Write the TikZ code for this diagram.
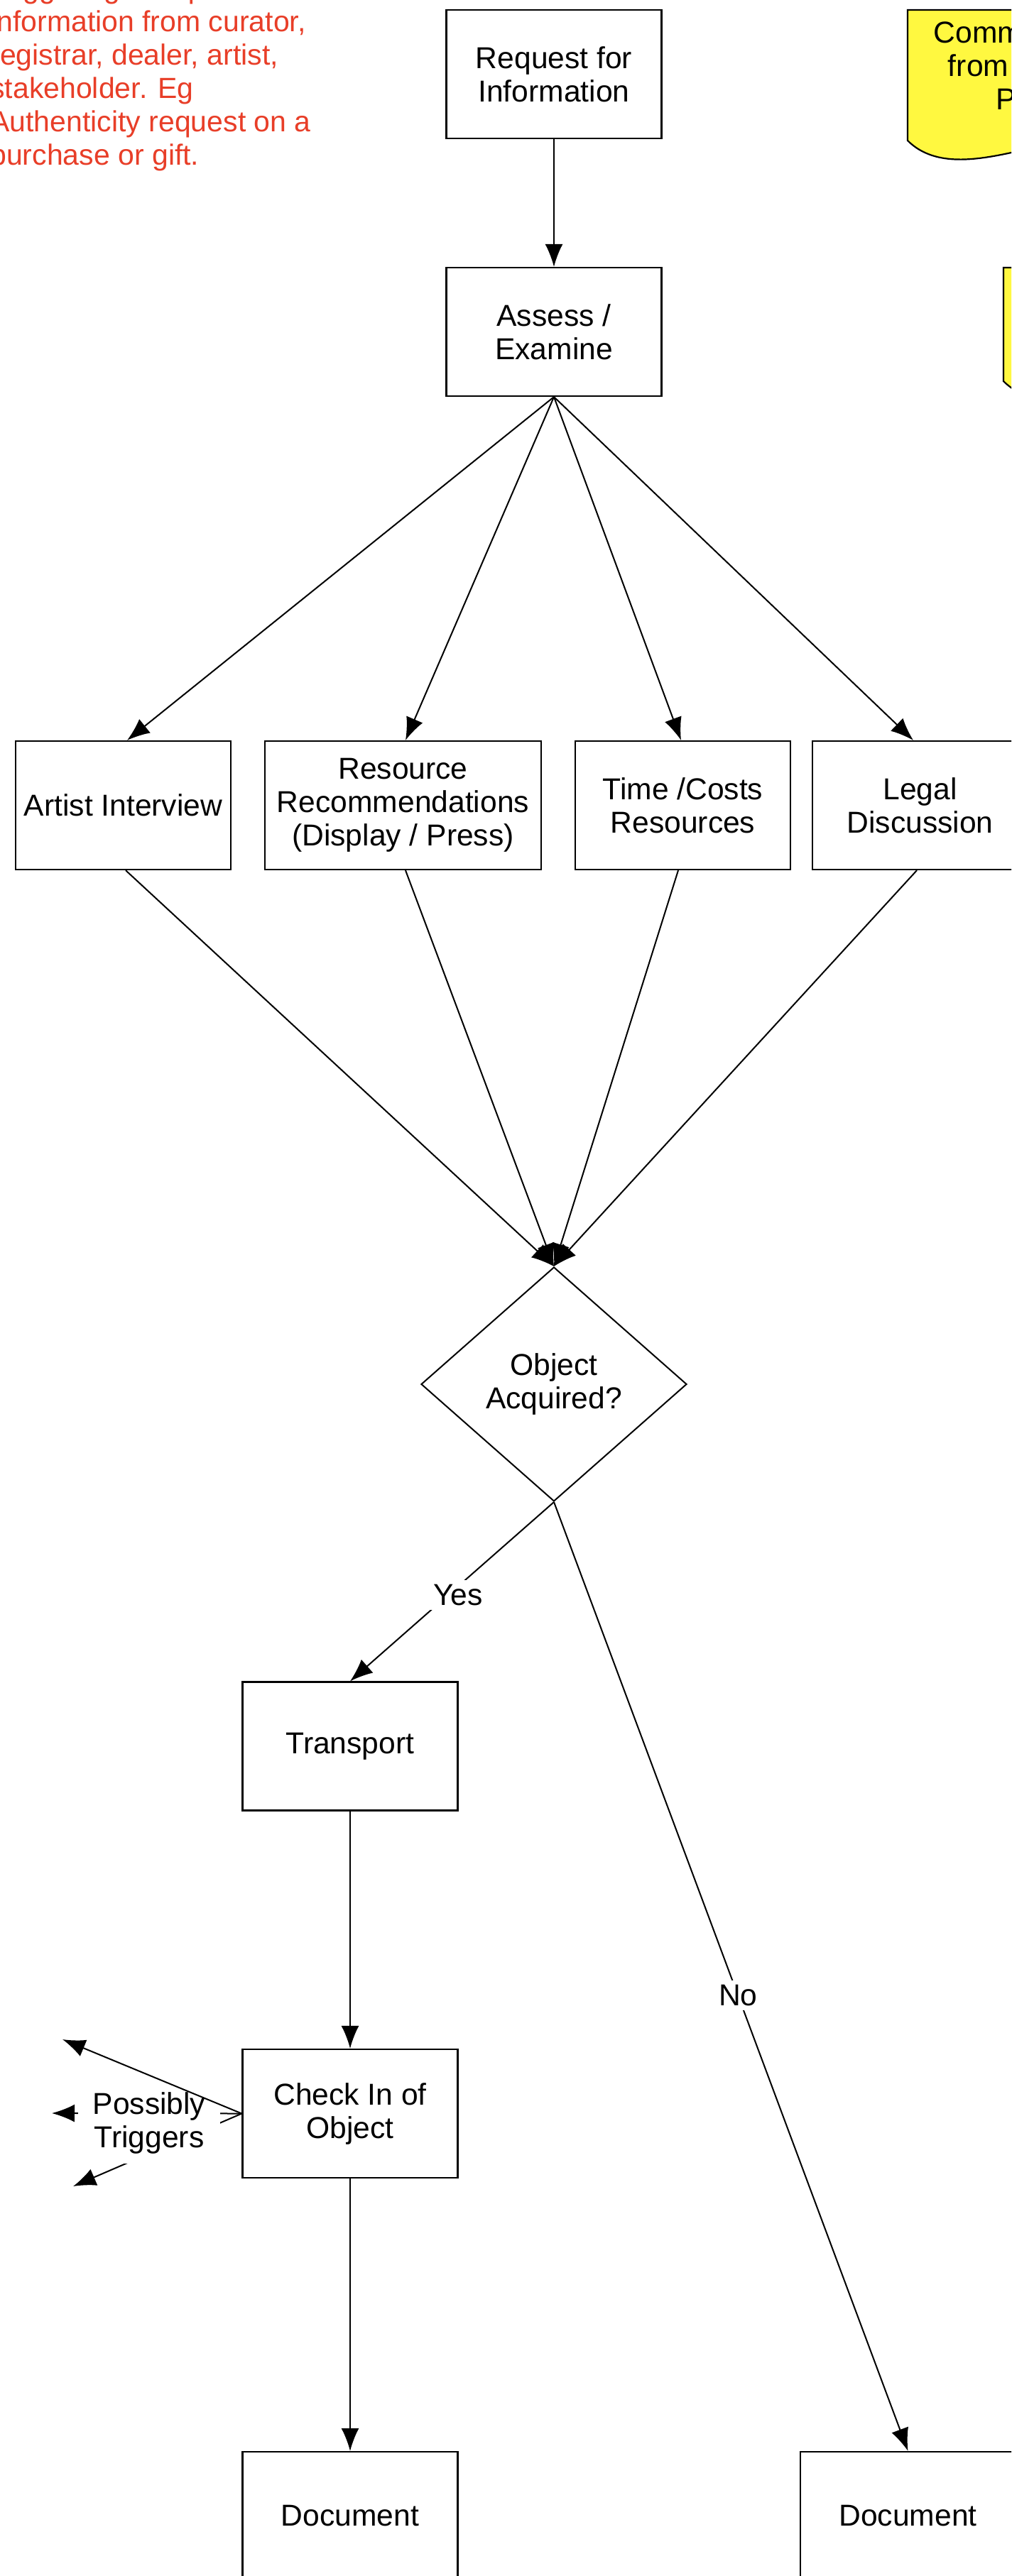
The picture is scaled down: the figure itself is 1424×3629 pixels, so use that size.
\documentclass[tikz,border=0pt]{standalone}
\usepackage{fontspec}
\setmainfont{Liberation Sans}
\usetikzlibrary{shapes.geometric,arrows.meta}
\definecolor{notered}{RGB}{232,62,40}
\definecolor{noteyellow}{RGB}{255,248,64}
\begin{document}
\begin{tikzpicture}[x=0.5pt,y=-0.5pt,
  txt/.style={font=\fontsize{21.3}{23.5}\selectfont},
  box/.style={txt,draw,line width=1.1pt,minimum width=151.5pt,minimum height=90.5pt,align=center,inner sep=2pt},
  decision/.style={txt,diamond,draw,line width=1pt,minimum width=187pt,minimum height=165pt,inner sep=0pt,align=center},
  conn/.style={line width=1pt,-{Latex[length=16pt,width=12.5pt]}},
  lbl/.style={txt,fill=white,inner sep=3pt},
  memo/.style={fill=noteyellow,draw,line width=1.1pt}
]
\useasboundingbox (0,0) rectangle (1424,3629);
\clip (0,0) rectangle (1424,3629);

% note
\node[anchor=north west,align=left,text=notered,inner sep=0pt,font=\fontsize{20.5}{23.5}\selectfont] (note) at (-14,-33)
  {Triggering a request for\\information from curator,\\registrar, dealer, artist,\\stakeholder. Eg\\Authenticity request on a\\purchase or gift.};

% yellow memos (cut by the frame)
\draw[memo] (1278,14) -- (1583,14) -- (1583,198) .. controls (1500,170) and (1350,270) .. (1278,198) -- cycle;
\node[txt,align=center] (comm) at (1432,92) {Commission\\from Artist\\PR};
\draw[memo] (1413,377) -- (1720,377) -- (1720,537) .. controls (1635,509) and (1485,609) .. (1413,537) -- cycle;

% boxes
\node[box] (req) at (780,104.5) {Request for\\Information};
\node[box] (assess) at (780,467.5) {Assess /\\Examine};
\node[box] (artist) at (173.5,1134.5) {Artist Interview};
\node[box,minimum width=194.5pt] (resource) at (567.5,1134.5) {Resource\\Recommendations\\(Display / Press)};
\node[box] (time) at (961.5,1134.5) {Time /Costs\\Resources};
\node[box] (legal) at (1295.5,1134.5) {Legal\\Discussion};
\node[decision] (acq) at (780,1950) {Object\\Acquired?};
\node[box] (transport) at (493,2460) {Transport};
\node[box] (checkin) at (493,2977.5) {Check In of\\Object};
\node[box] (doc1) at (493,3544.5) {Document};
\node[box] (doc2) at (1278.5,3544.5) {Document};

% connectors
\draw[conn] (req) -- (assess);
\draw[conn] (assess.south) -- ([xshift=2.75pt]artist.north);
\draw[conn] (assess.south) -- ([xshift=1.75pt]resource.north);
\draw[conn] (assess.south) -- ([xshift=-1.25pt]time.north);
\draw[conn] (assess.south) -- ([xshift=-4.75pt]legal.north);
\draw[conn] ([xshift=1.75pt]artist.south) -- (acq.north);
\draw[conn] ([xshift=1.75pt]resource.south) -- (acq.north);
\draw[conn] ([xshift=-3.25pt]time.south) -- (acq.north);
\draw[conn] ([xshift=-2.25pt]legal.south) -- (acq.north);
\draw[conn] (acq.south) -- node[lbl,pos=0.52,xshift=7pt]{Yes} (transport.north);
\draw[conn] (acq.south) -- node[lbl,pos=0.52]{No} (doc2.north);
\draw[conn] (transport) -- (checkin);
\draw[conn] (checkin) -- (doc1);

% possibly triggers
\coordinate (t1) at (88,2873);
\coordinate (t2) at (73,2977);
\coordinate (t3) at (103,3080);
\draw[conn] (checkin.west) -- (t2);
\draw[conn] (checkin.west) -- (t3);
\node[txt,fill=white,minimum width=100pt,minimum height=56.5pt,align=center,inner sep=0pt] (trig) at (210,2991) {Possibly\\Triggers};
\draw[conn] (checkin.west) -- (t1);
\end{tikzpicture}
\end{document}
